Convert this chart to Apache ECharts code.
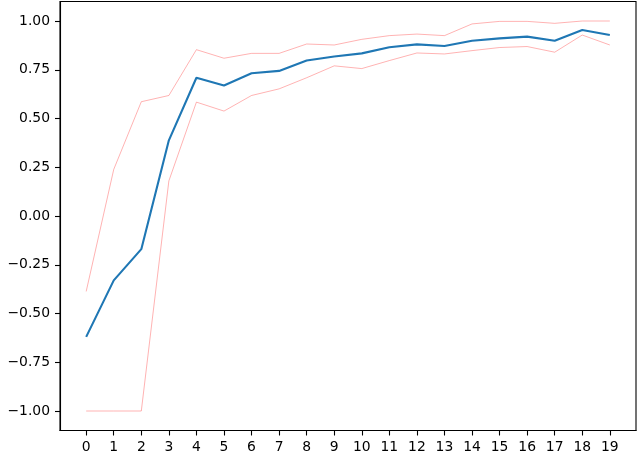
<!DOCTYPE html>
<html><head><meta charset="utf-8">
<script src="https://cdn.jsdelivr.net/npm/echarts@6/dist/echarts.min.js"></script>
<style>html,body{margin:0;padding:0;background:#fff}#c{width:640px;height:455px}</style>
</head><body><div id="c"></div>
<script>
var xTicks = [0,1,2,3,4,5,6,7,8,9,10,11,12,13,14,15,16,17,18,19];
var yTicks = [-1,-0.75,-0.5,-0.25,0,0.25,0.5,0.75,1];
var yTickLabels = ['\u22121.00','\u22120.75','\u22120.50','\u22120.25','0.00','0.25','0.50','0.75','1.00'];
var meanVals = [-0.62,-0.33,-0.17,0.388,0.709,0.669,0.732,0.744,0.797,0.818,0.834,0.865,0.880,0.872,0.899,0.911,0.920,0.899,0.954,0.928];
var upperVals = [-0.387,0.239,0.586,0.618,0.853,0.809,0.834,0.834,0.882,0.877,0.906,0.925,0.933,0.925,0.985,0.998,0.998,0.988,1.0,1.0];
var lowerVals = [-1,-1,-1,0.18,0.584,0.538,0.618,0.652,0.709,0.770,0.756,0.797,0.836,0.831,0.848,0.864,0.869,0.840,0.928,0.877];

function pairs(v){ return xTicks.map(function(x,i){ return [x, v[i]]; }); }
var font = {fontFamily:'DejaVu Sans', fontSize:13.9, color:'#000'};
var chart = echarts.init(document.getElementById('c'), null, {renderer:'canvas'});
chart.setOption({
  animation:false,
  grid:{left:60, right:4, top:1.5, bottom:24.5, show:true, borderColor:'#000', borderWidth:1.1, backgroundColor:'transparent'},
  xAxis:{type:'value', min:-0.95, max:19.95, splitLine:{show:false},
    axisLine:{show:true, onZero:false, lineStyle:{color:'#000', width:1.1}},
    axisTick:{show:true, length:5, inside:false, lineStyle:{color:'#000', width:1.1}, customValues:xTicks},
    axisLabel:Object.assign({show:true, margin:10, customValues:xTicks, formatter:function(v){return String(Math.round(v));}}, font)
  },
  yAxis:{type:'value', min:-1.1, max:1.1, splitLine:{show:false},
    axisLine:{show:true, onZero:false, lineStyle:{color:'#000', width:1.1}},
    axisTick:{show:true, length:5, inside:false, lineStyle:{color:'#000', width:1.1}, customValues:yTicks},
    axisLabel:Object.assign({show:true, margin:10, customValues:yTicks, formatter:function(v){
      var i = yTicks.findIndex(function(t){return Math.abs(t-v)<1e-6;}); return i>=0?yTickLabels[i]:'';}}, font)
  },
  series:[
    {type:'line', data:pairs(upperVals), symbol:'none', lineStyle:{color:'rgba(255,0,0,0.3)', width:1}, z:2},
    {type:'line', data:pairs(lowerVals), symbol:'none', lineStyle:{color:'rgba(255,0,0,0.3)', width:1}, z:2},
    {type:'line', data:pairs(meanVals), symbol:'none', lineStyle:{color:'#1f77b4', width:2.1}, z:3}
  ]
});
</script></body></html>
